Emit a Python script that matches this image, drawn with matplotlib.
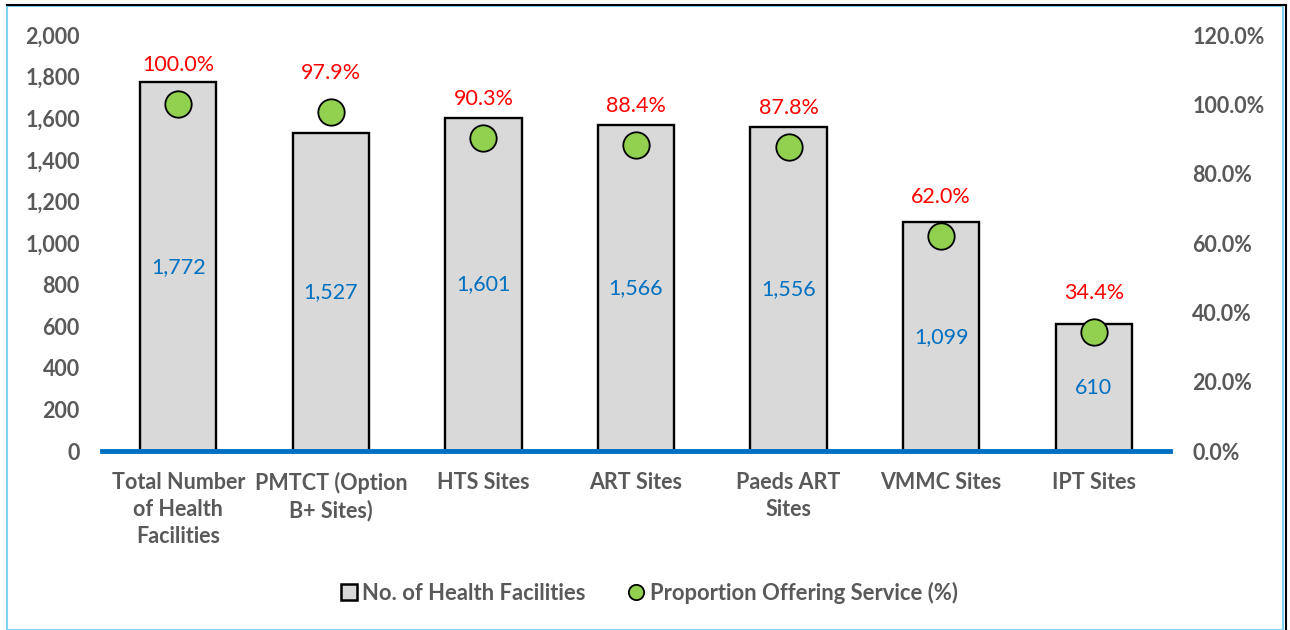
import matplotlib
matplotlib.use('Agg')
from matplotlib import pyplot as plt, patches
from matplotlib.lines import Line2D

categories = ['Total Number\nof Health\nFacilities', 'PMTCT (Option\nB+ Sites)', 'HTS Sites',
              'ART Sites', 'Paeds ART\nSites', 'VMMC Sites', 'IPT Sites']
facilities = [1772, 1527, 1601, 1566, 1556, 1099, 610]
proportion = [100.0, 97.9, 90.3, 88.4, 87.8, 62.0, 34.4]
left_ticks = [0, 200, 400, 600, 800, 1000, 1200, 1400, 1600, 1800, 2000]
right_ticks = [0, 20, 40, 60, 80, 100, 120]

plt.rcParams['font.family'] = ['Lato', 'DejaVu Sans']
grey = '#595959'
blue = '#0070c0'
green = '#92d050'

fig = plt.figure(figsize=(12.9, 6.3), dpi=100)
ax = fig.add_axes([102 / 1290, 1 - 451 / 630, (1170 - 102) / 1290, (451 - 35) / 630])
ax2 = ax.twinx()

x = list(range(len(categories)))
bars = ax.bar(x, facilities, width=0.5, color='#d9d9d9', edgecolor='black', linewidth=1.7, zorder=2)
for xi, v in zip(x, facilities):
    ax.text(xi, v / 2, f'{v:,}', ha='center', va='center', color=blue, fontsize=15.5)

ax.set_ylim(0, 2000)
ax.set_xlim(-0.5, len(categories) - 0.5)
ax.set_yticks(left_ticks)
ax.set_yticklabels([f'{t:,}' for t in left_ticks], fontweight='bold', color=grey, fontsize=15.5)
ax.set_xticks(x)
ax.set_xticklabels(categories, fontweight='bold', color=grey, fontsize=15.5, linespacing=1.35, va='top')
ax.tick_params(axis='both', length=0)
ax.tick_params(axis='x', pad=15)
ax.tick_params(axis='y', pad=16)
for s in ['top', 'right', 'left']:
    ax.spines[s].set_visible(False)
    ax2.spines[s].set_visible(False)
ax.spines['bottom'].set_color(blue)
ax.spines['bottom'].set_linewidth(3.5)
ax2.spines['bottom'].set_visible(False)

ax2.plot(x, proportion, linestyle='none', marker='o', markersize=19, markerfacecolor=green,
         markeredgecolor='black', markeredgewidth=1.3, zorder=3)
for xi, p in zip(x, proportion):
    ax2.annotate(f'{p:.1f}%', (xi, p), xytext=(0, 28), textcoords='offset points',
                 ha='center', va='center', color='red', fontsize=15.5)
ax2.set_ylim(0, 120)
ax2.set_yticks(right_ticks)
ax2.set_yticklabels([f'{t:.1f}%' for t in right_ticks], fontweight='bold', color=grey, fontsize=15.5)
ax2.tick_params(axis='y', length=0, pad=16)

handles = [Line2D([], [], linestyle='none', marker='s', markersize=11, markerfacecolor='#d9d9d9',
                  markeredgecolor='black', markeredgewidth=1.8),
           Line2D([], [], linestyle='none', marker='o', markersize=11, markerfacecolor=green,
                  markeredgecolor='black', markeredgewidth=1.3)]
leg = fig.legend(handles, ['No. of Health Facilities', 'Proportion Offering Service (%)'],
                 loc='center', bbox_to_anchor=(649 / 1290, 1 - 593 / 630), ncol=2, frameon=False,
                 handlelength=0.8, handletextpad=0.2, columnspacing=1.9,
                 prop={'weight': 'bold', 'size': 15.8})
for t in leg.get_texts():
    t.set_color(grey)

# cadre
fig.patches.append(patches.Rectangle((7 / 1290, 0), (1283 - 7) / 1290, 1 - 6 / 630, transform=fig.transFigure,
                                     fill=False, edgecolor='#7fd3f2', linewidth=1.5))
fig.add_artist(Line2D([7 / 1290, 1286 / 1290], [1 - 5 / 630, 1 - 5 / 630], color='black', linewidth=1.5))
fig.add_artist(Line2D([1286 / 1290, 1286 / 1290], [0, 1 - 5 / 630], color='black', linewidth=1.5))

fig.savefig('out.png', dpi=100)
